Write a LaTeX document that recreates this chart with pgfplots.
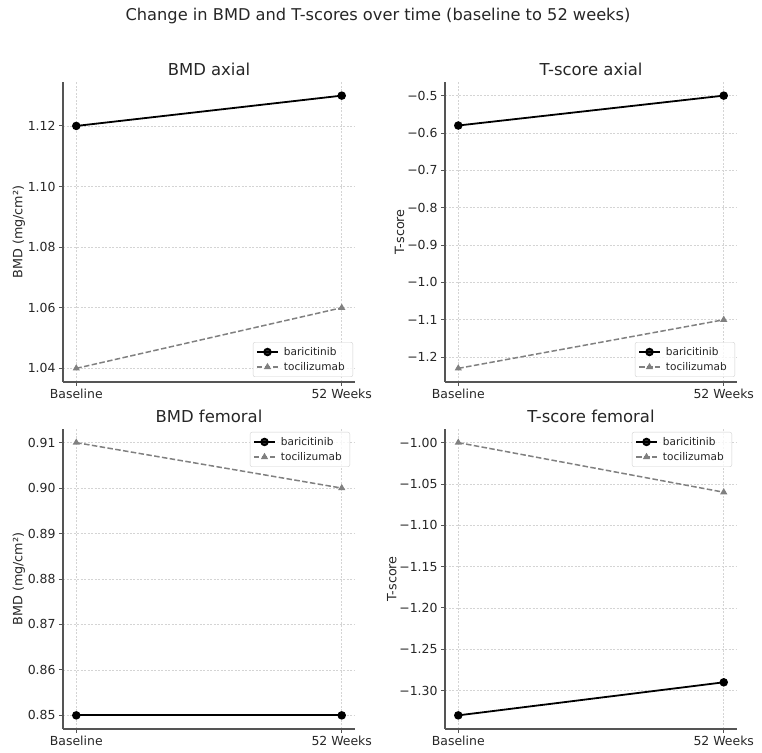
\documentclass[border=0pt]{standalone}
\usepackage{fontspec}
\setmainfont{DejaVu Sans}
\usepackage{pgfplots}
\pgfplotsset{compat=1.18}
\definecolor{spine}{RGB}{85,85,85}
\definecolor{tocg}{RGB}{128,128,128}
\definecolor{gridc}{RGB}{212,212,212}
\definecolor{legc}{RGB}{210,210,210}
\definecolor{txt}{RGB}{38,38,38}
\pgfplotsset{
 sub/.style={
  scale only axis, width=292bp, height=300bp,
  anchor=south west,
  axis x line*=bottom, axis y line*=left,
  axis line style={spine, line width=1.1bp, -},
  xmin=-0.05, xmax=1.05,
  xtick={0,1}, xticklabels={Baseline,52 Weeks},
  tick align=outside, major tick length=4bp,
  tick style={spine, line width=0.9bp},
  grid=major,
  major grid style={gridc, dash pattern=on 2bp off 1.5bp, line width=0.6bp},
  ticklabel style={font=\fontsize{12.5}{14}\selectfont, text=txt},
  label style={font=\fontsize{12.8}{14}\selectfont, text=txt},
  ylabel style={yshift=-4bp},
  title style={font=\fontsize{16.5}{19}\selectfont, text=txt, at={(0.5,1)}, anchor=base, yshift=1bp},
  legend style={font=\fontsize{10.6}{12}\selectfont, text=txt, draw=legc, rounded corners=2bp,
    fill=white, fill opacity=0.8, text opacity=1, inner xsep=3bp, inner ysep=4bp,
    row sep=3.5bp,
    nodes={inner xsep=5bp, inner ysep=1bp}},
  legend cell align=left,
  legend image code/.code={\draw[mark repeat=2,mark phase=2] plot coordinates {(0bp,0bp) (10.5bp,0bp) (21bp,0bp)};},
 },
 lowr/.style={legend style={at={(1,0)}, anchor=south east, xshift=-2bp, yshift=5bp}},
 upr/.style={legend style={at={(1,1)}, anchor=north east, xshift=-5bp, yshift=-3bp}},
 bar/.style={black, line width=1.8bp, mark=*, mark size=3.3bp, mark options={solid}},
 toc/.style={tocg, line width=1.5bp, dash pattern=on 5.5bp off 2.4bp, mark=triangle*, mark size=2.7bp, mark options={solid}},
}
\begin{document}
\begin{tikzpicture}[x=1bp,y=1bp]
\useasboundingbox (0,0) rectangle (762,753);
\node[anchor=base, font=\fontsize{16.3}{19}\selectfont, text=txt] at (378,732) {Change in BMD and T-scores over time (baseline to 52 weeks)};

\begin{axis}[sub, lowr, at={(63bp,371bp)},
  title={BMD axial}, ylabel={BMD (mg/cm²)},
  ymin=1.0355, ymax=1.1345,
  ytick={1.04,1.06,1.08,1.10,1.12}, yticklabels={1.04,1.06,1.08,1.10,1.12}]
\addplot[bar] coordinates {(0,1.12) (1,1.13)};
\addlegendentry{baricitinib}
\addplot[toc] coordinates {(0,1.04) (1,1.06)};
\addlegendentry{tocilizumab}
\end{axis}

\begin{axis}[sub, lowr, at={(445bp,371bp)},
  title={T-score axial}, ylabel={T-score},
  ymin=-1.2665, ymax=-0.4635,
  ytick={-1.2,-1.1,-1.0,-0.9,-0.8,-0.7,-0.6,-0.5},
  yticklabels={−1.2,−1.1,−1.0,−0.9,−0.8,−0.7,−0.6,−0.5}]
\addplot[bar] coordinates {(0,-0.58) (1,-0.50)};
\addlegendentry{baricitinib}
\addplot[toc] coordinates {(0,-1.23) (1,-1.10)};
\addlegendentry{tocilizumab}
\end{axis}

\begin{axis}[sub, upr, at={(63bp,24bp)},
  title={BMD femoral}, ylabel={BMD (mg/cm²)},
  ymin=0.847, ymax=0.913,
  ytick={0.85,0.86,0.87,0.88,0.89,0.90,0.91},
  yticklabels={0.85,0.86,0.87,0.88,0.89,0.90,0.91}]
\addplot[bar] coordinates {(0,0.85) (1,0.85)};
\addlegendentry{baricitinib}
\addplot[toc] coordinates {(0,0.91) (1,0.90)};
\addlegendentry{tocilizumab}
\end{axis}

\begin{axis}[sub, upr, at={(445bp,24bp)},
  title={T-score femoral}, ylabel={T-score},
  ymin=-1.3465, ymax=-0.9835,
  ytick={-1.30,-1.25,-1.20,-1.15,-1.10,-1.05,-1.00},
  yticklabels={−1.30,−1.25,−1.20,−1.15,−1.10,−1.05,−1.00}]
\addplot[bar] coordinates {(0,-1.33) (1,-1.29)};
\addlegendentry{baricitinib}
\addplot[toc] coordinates {(0,-1.00) (1,-1.06)};
\addlegendentry{tocilizumab}
\end{axis}
\end{tikzpicture}
\end{document}
